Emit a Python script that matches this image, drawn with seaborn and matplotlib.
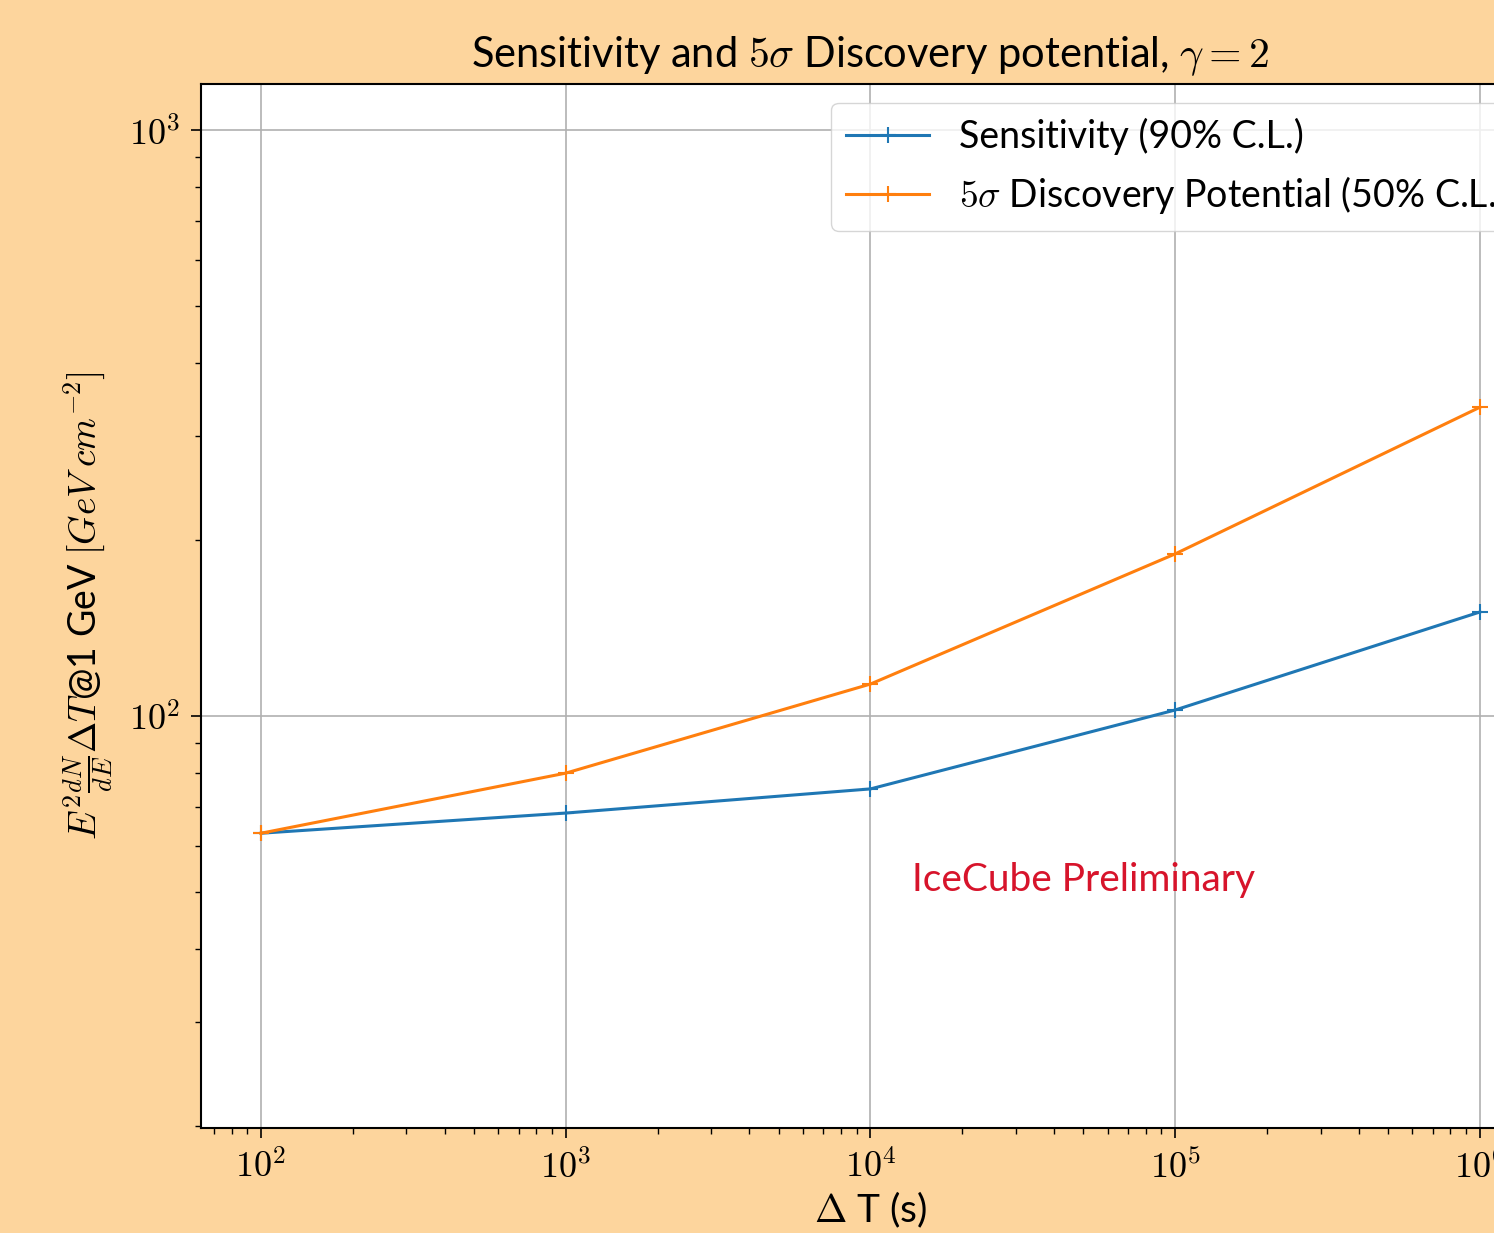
import numpy as np
import pandas as pd
import matplotlib
matplotlib.use("Agg")
import matplotlib.pyplot as plt
import matplotlib.ticker as mticker
import seaborn as sns

delta_t = [1e2, 1e3, 1e4, 1e5, 1e6]
sensitivity = [63.1, 68.3, 75.1, 102.4, 150.5]
discovery = [63.1, 79.9, 113.4, 189.1, 336.5]
series_labels = ["Sensitivity (90% C.L.)", r"$5\sigma$ Discovery Potential (50% C.L.)"]

plt.rcParams['mathtext.fontset'] = 'cm'
plt.rcParams['font.family'] = ['Lato', 'DejaVu Sans']

df = pd.DataFrame({
    "dt": delta_t * 2,
    "flux": sensitivity + discovery,
    "series": [series_labels[0]] * 5 + [series_labels[1]] * 5,
})

bg = '#FDD59D'
fig = plt.figure(figsize=(14.94, 12.33), dpi=100, facecolor=bg)
ax = fig.add_axes([201/1494, 105/1233, 1339/1494, 1044/1233])
ax.set_facecolor('white')

sns.lineplot(data=df, x="dt", y="flux", hue="series", palette=['#1f77b4', '#ff7f0e'],
             marker='+', markersize=11, markeredgewidth=1.5, linewidth=2.2, ax=ax,
             legend=True)
for ln in ax.lines:
    ln.set_markeredgecolor(ln.get_color())
    ln.set_markerfacecolor(ln.get_color())

ax.set_xscale('log')
ax.set_yscale('log')
ax.set_xlim(10**1.803, 10**6.197)
ax.set_ylim(10**1.297, 10**3.0785)

def fmt(v, pos):
    e = int(round(np.log10(v)))
    if abs(v - 10**e) / v < 1e-6:
        return r'$10^{%d}$' % e
    return ''
ax.xaxis.set_major_formatter(mticker.FuncFormatter(fmt))
ax.yaxis.set_major_formatter(mticker.FuncFormatter(fmt))
ax.xaxis.set_minor_formatter(mticker.NullFormatter())
ax.yaxis.set_minor_formatter(mticker.NullFormatter())

ax.grid(True, which='major', color='#b0b0b0', linewidth=1.2)
for s in ax.spines.values():
    s.set_linewidth(1.5)
    s.set_color('black')
ax.tick_params(axis='both', which='major', labelsize=26, length=7, width=1.2, pad=8)
ax.tick_params(axis='both', which='minor', length=4, width=1.0)

ax.set_xlabel(r"$\Delta$ T (s)", fontsize=28, labelpad=4)
ax.set_ylabel(r"$E^2\frac{dN}{dE}\Delta T$@1 GeV $[GeV\;cm^{-2}]$", fontsize=27, labelpad=10)
ax.set_title(r"Sensitivity and $5\sigma$ Discovery potential, $\gamma=2$", fontsize=30, pad=12)

leg = ax.legend(loc='upper right', fontsize=27, handlelength=2.2, framealpha=0.8,
                borderpad=0.4, labelspacing=0.5)
leg.get_frame().set_linewidth(1.0)
for h in leg.get_lines():
    h.set_markeredgecolor(h.get_color())
    h.set_linewidth(2.2)

ax.text(0.531, 0.2375, "IceCube Preliminary", color='#D7142B', fontsize=28,
        transform=ax.transAxes, va='center', ha='left')

fig.savefig("out.png", dpi=100, facecolor=bg)
